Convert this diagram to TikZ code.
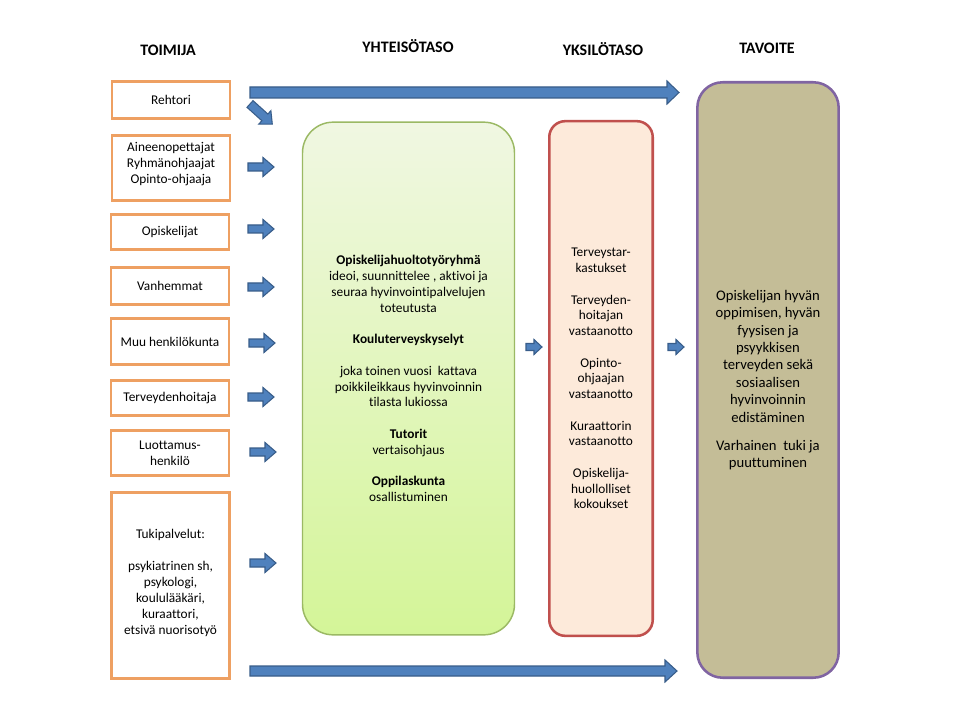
\documentclass[tikz,border=0pt]{standalone}
\usepackage{fontspec}
\setmainfont[Ligatures=NoCommon]{Carlito}
\definecolor{orangeC}{RGB}{238,160,98}
\definecolor{arrowfill}{RGB}{79,129,189}
\definecolor{arrowborder}{RGB}{56,93,138}
\definecolor{greenB}{RGB}{155,185,100}
\definecolor{greenTop}{RGB}{240,247,226}
\definecolor{greenBot}{RGB}{212,245,152}
\definecolor{pinkB}{RGB}{192,80,77}
\definecolor{pinkF}{RGB}{253,234,218}
\definecolor{tanB}{RGB}{128,100,162}
\definecolor{tanF}{RGB}{196,189,151}
\begin{document}
\begin{tikzpicture}[x=0.75pt,y=-0.75pt,
  every node/.style={inner sep=0pt, align=center},
  hdr/.style={font=\fontsize{12}{14}\selectfont\bfseries, text height=7.7pt, text depth=0pt},
  actor/.style={draw=orangeC, line width=2.2pt, fill=white, minimum width=88.5pt,
    font=\fontsize{10}{12}\selectfont},
  grnbox/.style={draw=greenB, line width=1.1pt, top color=greenTop, bottom color=greenBot,
    rounded corners=23pt, minimum width=159pt, minimum height=384.5pt,
    font=\fontsize{10}{11.85}\selectfont},
  pinkbox/.style={draw=pinkB, line width=1.9pt, fill=pinkF, rounded corners=12pt,
    minimum width=77.6pt, minimum height=386pt, font=\fontsize{10}{11.6}\selectfont},
  tanbox/.style={draw=tanB, line width=1.9pt, fill=tanF, rounded corners=19pt,
    minimum width=106pt, minimum height=446.6pt, font=\fontsize{11}{13.05}\selectfont},
  pics/barrow/.style args={#1/#2/#3/#4}{code={
    \filldraw[fill=arrowfill, draw=arrowborder, line width=0.8pt, line join=miter]
      (0,-#2) -- ({#1-#4},-#2) -- ({#1-#4},-#3) -- (#1,0) -- ({#1-#4},#3)
      -- ({#1-#4},#2) -- (0,#2) -- cycle;}}
]
\useasboundingbox (0,0) rectangle (960,720);
\fill[white] (0,0) rectangle (960,720);

% headers
\node[hdr] (hToimija) at (168,50) {TOIMIJA};
\node[hdr] (hYhteiso) at (408,47) {YHTEISÖTASO};
\node[hdr] (hYksilo) at (603,50) {YKSILÖTASO};
\node[hdr] (hTavoite) at (767,48) {TAVOITE};

% actors
\node[actor, minimum height=28pt] (rehtori) at (171,100) {Rehtori};
\node[actor, minimum height=49pt] (aine) at (171,168) {Aineenopettajat\\Ryhmänohjaajat\\Opinto-ohjaaja\\[-4.5pt]};
\node[actor, minimum height=26.6pt] (opisk) at (170,232) {Opiskelijat};
\node[actor, minimum height=28pt] (vanh) at (170,286) {Vanhemmat};
\node[actor, minimum height=35pt] (muu) at (170,341.5) {Muu henkilökunta};
\node[actor, minimum height=26.6pt] (terv) at (170,398) {Terveydenhoitaja};
\node[actor, minimum height=34pt] (luott) at (170,453) {Luottamus-\\henkilö};
\node[actor, minimum height=140pt] (tuki) at (170.5,585.5) {Tukipalvelut:\\[12pt]psykiatrinen sh,\\psykologi,\\koululääkäri,\\kuraattori,\\etsivä nuorisotyö\\[-6pt]};

% community level
\node[grnbox] (yhteiso) at (408.5,378.5) {\textbf{Opiskelijahuoltotyöryhmä}\\ideoi, suunnittelee , aktivoi ja\\seuraa hyvinvointipalvelujen\\toteutusta\\[11.85pt]\textbf{Kouluterveyskyselyt}\\[11.85pt]joka toinen vuosi\ \ kattava\\poikkileikkaus hyvinvoinnin\\tilasta lukiossa\\[11.85pt]\textbf{Tutorit}\\vertaisohjaus\\[11.85pt]\textbf{Oppilaskunta}\\osallistuminen};

% individual level
\node[pinkbox] (yksilo) at (601,378.5) {Terveystar-\\kastukset\\[12.5pt]Terveyden-\\hoitajan\\vastaanotto\\[12.5pt]Opinto-\\ohjaajan\\vastaanotto\\[12.5pt]Kuraattorin\\vastaanotto\\[12.5pt]Opiskelija-\\huollolliset\\kokoukset};

% goal
\node[tanbox] (tavoite) at (768,380) {Opiskelijan hyvän\\oppimisen, hyvän\\fyysisen ja\\psyykkisen\\terveyden sekä\\sosiaalisen\\hyvinvoinnin\\edistäminen\\[8pt]Varhainen\ \ tuki ja\\puuttuminen};

% arrows
\coordinate (arTop) at (250,92.5);
\coordinate (arBot) at (250,671);
\coordinate (arReh) at (250,104);
\coordinate (arAine) at (248,167);
\coordinate (arOpisk) at (248,229);
\coordinate (arVanh) at (248,287);
\coordinate (arMuu) at (249,343);
\coordinate (arTerv) at (248,397);
\coordinate (arLuott) at (250,452);
\coordinate (arTuki) at (250,563);
\coordinate (arMid) at (526,347);
\coordinate (arGoal) at (668,347);

\pic at (arTop) {barrow=429/5.5/11.5/12};
\pic at (arBot) {barrow=427/5/11/12};
\pic[rotate=-42] at (arReh) {barrow=30/4.5/9/10};
\foreach \c in {arAine,arOpisk,arVanh,arMuu,arTerv,arLuott,arTuki}
  \pic at (\c) {barrow=26/4/9.5/11};
\pic at (arMid) {barrow=16/3.5/7.5/8};
\pic at (arGoal) {barrow=16/3.5/7.5/8};
\end{tikzpicture}
\end{document}
